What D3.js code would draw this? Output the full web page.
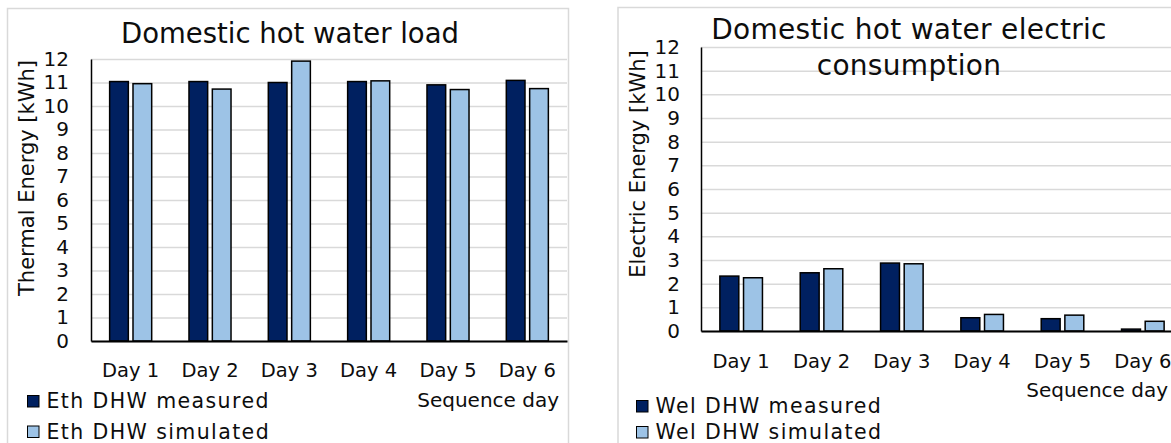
<!DOCTYPE html>
<html>
<head>
<meta charset="utf-8">
<script src="https://cdn.jsdelivr.net/npm/d3@7/dist/d3.min.js"></script>
<style>
  html, body { margin: 0; padding: 0; background: #ffffff; }
  svg { display: block; }
  text { font-family: "DejaVu Sans", sans-serif; fill: #0d0d0d; }
</style>
</head>
<body>
<svg id="chart" width="1171" height="443"></svg>
<script>
// ---------- data ----------
const days = ["Day 1", "Day 2", "Day 3", "Day 4", "Day 5", "Day 6"];
const yTickValues = [0, 1, 2, 3, 4, 5, 6, 7, 8, 9, 10, 11, 12];

const ethSeries = ["Eth DHW measured", "Eth DHW simulated"];
const ethMeasured = [11.04, 11.04, 11.0, 11.04, 10.9, 11.09];
const ethSimulated = [10.95, 10.72, 11.91, 11.07, 10.7, 10.74];

const welSeries = ["Wel DHW measured", "Wel DHW simulated"];
const welMeasured = [2.32, 2.46, 2.87, 0.56, 0.52, 0.08];
const welSimulated = [2.25, 2.63, 2.84, 0.70, 0.67, 0.41];

const seriesColors = ["#002060", "#9DC3E6"];

// ---------- drawing ----------
const svg = d3.select("#chart");

function drawChart(cfg) {
  const g = svg.append("g");

  // chart border
  g.append("rect")
    .attr("x", cfg.box[0]).attr("y", cfg.box[1])
    .attr("width", cfg.box[2]).attr("height", cfg.box[3])
    .attr("fill", "none").attr("stroke", "#d9d9d9").attr("stroke-width", 1.5);

  const x0 = d3.scaleBand().domain(days).range([cfg.plot.left, cfg.plot.right])
    .paddingInner(0.47).paddingOuter(0.235);
  const x1 = d3.scaleBand().domain(cfg.series).range([0, x0.bandwidth()]).paddingInner(0.2);
  const y = d3.scaleLinear().domain([0, 12]).range([cfg.plot.bottom, cfg.plot.top]);

  // gridlines
  const grid = g.append("g")
    .attr("transform", `translate(${cfg.plot.left},0)`)
    .call(d3.axisLeft(y).tickValues(yTickValues).tickSize(-(cfg.plot.right - cfg.plot.left)).tickFormat(""));
  grid.select(".domain").remove();
  grid.selectAll(".tick line").attr("stroke", "#d9d9d9").attr("stroke-width", 1.5);

  // title
  const title = g.append("text")
    .attr("text-anchor", "middle")
    .attr("letter-spacing", cfg.titleSpacing)
    .style("font-size", cfg.titleSize + "px");
  cfg.titleLines.forEach((t, i) => {
    title.append("tspan").attr("x", cfg.titleX).attr("y", cfg.titleY[i]).text(t);
  });

  // bars
  const rows = days.map((d, i) => ({ day: d, values: cfg.values.map(v => v[i]) }));
  const groups = g.append("g").selectAll("g").data(rows).join("g")
    .attr("transform", d => `translate(${x0(d.day)},0)`);
  groups.selectAll("rect")
    .data(d => d.values.map((v, k) => ({ key: cfg.series[k], v, k })))
    .join("rect")
    .attr("x", d => x1(d.key))
    .attr("width", x1.bandwidth())
    .attr("y", d => y(d.v))
    .attr("height", d => y(0) - y(d.v))
    .attr("fill", d => seriesColors[d.k])
    .attr("stroke", "#000").attr("stroke-width", 1.5);

  // y axis
  const ya = g.append("g")
    .attr("transform", `translate(${cfg.plot.left},0)`)
    .call(d3.axisLeft(y).tickValues(yTickValues).tickSize(0).tickPadding(cfg.tickPad));
  ya.select(".domain").attr("stroke", "#000").attr("stroke-width", 1.5);
  ya.selectAll("text").style("font-size", "20px").attr("fill", "#0d0d0d").attr("font-family", null);

  // x axis
  const xa = g.append("g")
    .attr("transform", `translate(0,${cfg.plot.bottom})`)
    .call(d3.axisBottom(x0).tickSize(0).tickPadding(0));
  xa.select(".domain").attr("stroke", "#000").attr("stroke-width", 2);
  xa.selectAll("text").style("font-size", "19.5px").attr("fill", "#0d0d0d")
    .attr("dy", null).attr("y", cfg.dayLabelDy).attr("font-family", null);

  // x axis title
  g.append("text").attr("text-anchor", "end")
    .attr("x", cfg.xTitle[0]).attr("y", cfg.xTitle[1])
    .style("font-size", "20px").text("Sequence day");

  // y axis title
  g.append("text").attr("text-anchor", "middle")
    .attr("transform", `translate(${cfg.yTitle[0]},${cfg.yTitle[1]}) rotate(-90)`)
    .style("font-size", "21px").text(cfg.yTitleText);

  // legend
  cfg.series.forEach((s, k) => {
    const [lx, ly] = cfg.legend[k];
    g.append("rect").attr("x", lx).attr("y", ly - 12.5).attr("width", 11.5).attr("height", 11.5)
      .attr("fill", seriesColors[k]).attr("stroke", "#000").attr("stroke-width", 1);
    g.append("text").attr("x", lx + 19).attr("y", ly)
      .attr("letter-spacing", 1.4)
      .style("font-size", "20.5px").text(s);
  });
}

drawChart({
  box: [7.5, 8.5, 561, 460],
  plot: { left: 91, right: 567, top: 59, bottom: 341 },
  series: ethSeries,
  values: [ethMeasured, ethSimulated],
  titleLines: ["Domestic hot water load"],
  titleX: 290, titleY: [43], titleSize: 27.5, titleSpacing: 0,
  tickPad: 22,
  dayLabelDy: 36,
  xTitle: [559, 407],
  yTitle: [34, 178],
  yTitleText: "Thermal Energy [kWh]",
  legend: [[27.5, 408], [27.5, 438.5]]
});

drawChart({
  box: [618, 7.5, 600, 460],
  plot: { left: 701, right: 1183, top: 47, bottom: 331 },
  series: welSeries,
  values: [welMeasured, welSimulated],
  titleLines: ["Domestic hot water electric", "consumption"],
  titleX: 909, titleY: [39, 75], titleSize: 28, titleSpacing: 0.3,
  tickPad: 21,
  dayLabelDy: 37,
  xTitle: [1168, 397],
  yTitle: [645, 164],
  yTitleText: "Electric Energy [kWh]",
  legend: [[636.5, 413], [636.5, 439]]
});
</script>
</body>
</html>
